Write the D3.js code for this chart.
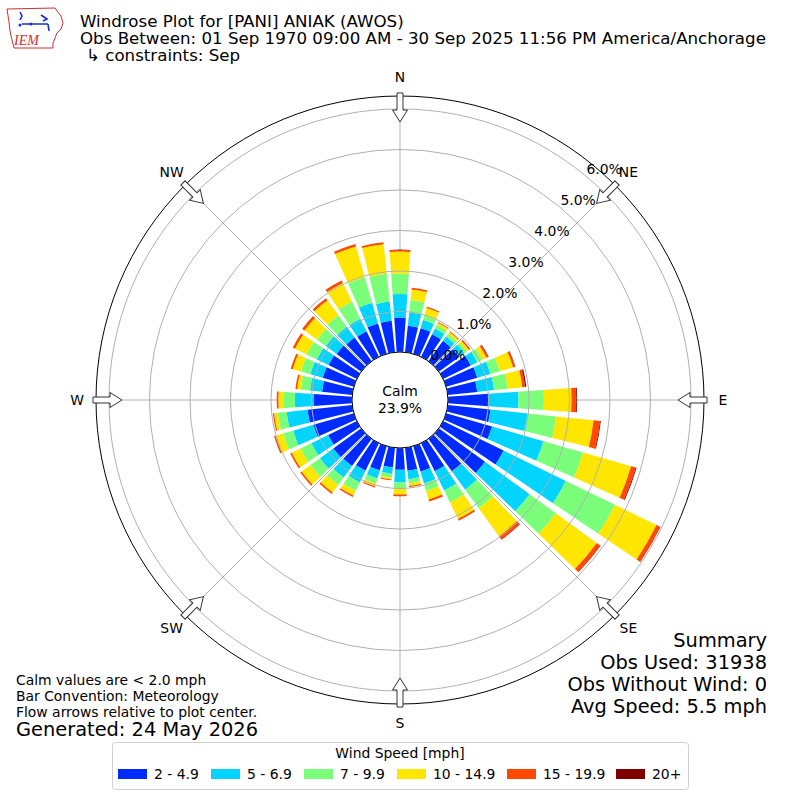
<!DOCTYPE html>
<html><head><meta charset="utf-8">
<script src="https://cdn.jsdelivr.net/npm/d3@7"></script>
<style>
body{margin:0;background:#fff}
svg{display:block}
text{font-family:"DejaVu Sans",sans-serif;fill:#000}
</style>
</head><body>
<svg id="chart" width="800" height="800"></svg>
<script>
// ---------------- data ----------------
const directions = [0,10,20,30,40,50,60,70,80,90,100,110,120,130,140,150,160,170,
                    180,190,200,210,220,230,240,250,260,270,280,290,300,310,320,330,340,350];
const speedBins = ["2 - 4.9","5 - 6.9","7 - 9.9","10 - 14.9","15 - 19.9","20+"];
// percent of observations per direction for each speed bin
const pct_2_5   = [0.85,0.66,0.66,0.62,0.62,0.62,0.76,0.80,0.73,1.00,1.06,1.18,1.66,1.41,1.00,0.77,0.65,0.57,
                   0.54,0.49,0.62,0.76,0.83,0.85,0.79,1.04,1.11,0.95,0.75,0.80,0.78,0.75,0.72,0.70,0.78,0.78];
const pct_5_7   = [0.58,0.33,0.21,0.16,0.13,0.16,0.18,0.34,0.42,0.74,0.92,1.32,1.71,1.36,0.55,0.53,0.31,0.21,
                   0.31,0.16,0.21,0.32,0.35,0.41,0.46,0.52,0.52,0.46,0.30,0.32,0.32,0.33,0.33,0.35,0.53,0.48];
const pct_7_10  = [0.51,0.31,0.13,0.10,0.08,0.07,0.14,0.24,0.34,0.63,0.71,1.02,1.35,0.80,0.57,0.33,0.19,0.10,
                   0.16,0.09,0.13,0.23,0.23,0.29,0.30,0.26,0.22,0.29,0.23,0.24,0.28,0.27,0.35,0.47,0.66,0.69];
const pct_10_15 = [0.54,0.26,0.18,0.06,0.06,0.07,0.11,0.34,0.36,0.68,0.93,1.23,1.14,1.25,0.85,0.45,0.22,0.07,
                   0.14,0.05,0.07,0.13,0.23,0.27,0.24,0.19,0.09,0.12,0.09,0.21,0.32,0.38,0.46,0.51,0.79,0.73];
const pct_15_20 = [0.04,0.04,0.03,0.02,0.02,0.04,0.05,0.05,0.07,0.12,0.16,0.12,0.10,0.11,0.10,0.05,0.05,0.03,
                   0.04,0.02,0.03,0.04,0.04,0.04,0.04,0.04,0.03,0.04,0.04,0.05,0.06,0.07,0.06,0.07,0.06,0.05];
const pct_20p   = [0.01,0.00,0.00,0.00,0.00,0.00,0.01,0.01,0.03,0.02,0.02,0.02,0.01,0.01,0.01,0.00,0.00,0.00,
                   0.00,0.00,0.00,0.00,0.00,0.00,0.00,0.00,0.00,0.00,0.00,0.00,0.00,0.00,0.00,0.00,0.00,0.00];
const binColors = ["#002bff","#00d4ff","#7bff7b","#ffe600","#ff4800","#800000"];
const radialTicks = [0,1,2,3,4,5,6];
const compassLabels = ["N","NE","E","SE","S","SW","W","NW"];
const compassAngles = [0,45,90,135,180,225,270,315];
const calmPct = 23.9;
const radialMax = 6.32;

const titleLines = ["Windrose Plot for [PANI] ANIAK (AWOS)",
  "Obs Between: 01 Sep 1970 09:00 AM - 30 Sep 2025 11:56 PM America/Anchorage",
  "\u21b3 constraints: Sep"];
const noteLines = ["Calm values are < 2.0 mph","Bar Convention: Meteorology","Flow arrows relative to plot center."];
const generatedText = "Generated: 24 May 2026";
const summaryLines = ["Summary","Obs Used: 31938","Obs Without Wind: 0","Avg Speed: 5.5 mph"];

// ---------------- chart ----------------
const svg = d3.select("#chart");
const cx = 400, cy = 400;
const r = d3.scaleLinear().domain([0, radialMax]).range([48, 304]);
const deg = d => d * Math.PI / 180;
const g = svg.append("g").attr("transform", `translate(${cx},${cy})`);

// spokes (under bars)
g.selectAll("line.spoke").data(compassAngles).join("line")
  .attr("x1", a => r(0) * Math.sin(deg(a))).attr("y1", a => -r(0) * Math.cos(deg(a)))
  .attr("x2", a => r(radialMax) * Math.sin(deg(a))).attr("y2", a => -r(radialMax) * Math.cos(deg(a)))
  .attr("stroke", "#b0b0b0").attr("stroke-width", 1);

// stacked bars
const series = [pct_2_5, pct_5_7, pct_7_10, pct_10_15, pct_15_20, pct_20p];
const segs = [];
directions.forEach((d, i) => {
  let acc = 0;
  series.forEach((s, k) => {
    const v = s[i];
    if (v > 0) segs.push({dir: d, lo: acc, hi: acc + v, k});
    acc += v;
  });
});
const arc = d3.arc();
const half = 4; // opening 0.8 of 10 deg
g.selectAll("path.bar").data(segs).join("path")
  .attr("d", s => arc({innerRadius: r(s.lo), outerRadius: r(s.hi),
                       startAngle: deg(s.dir - half), endAngle: deg(s.dir + half)}))
  .attr("fill", s => binColors[s.k]);

// grid circles (over bars)
g.selectAll("circle.grid").data(radialTicks).join("circle")
  .attr("r", t => r(t)).attr("fill", "none").attr("stroke", "#b0b0b0").attr("stroke-width", 1);

// outer frame
g.append("circle").attr("r", r(radialMax)).attr("fill", "none").attr("stroke", "#000").attr("stroke-width", 1);

// radial tick labels
const la = deg(40);
g.selectAll("text.rlab").data(radialTicks).join("text")
  .attr("x", t => r(t) * Math.sin(la) + 17)
  .attr("y", t => -r(t) * Math.cos(la) - 8)
  .attr("text-anchor", "middle").attr("dominant-baseline", "central")
  .style("font-size", "13.9px")
  .text(t => t.toFixed(1) + "%");

// calm circle
g.append("circle").attr("r", r(0)).attr("fill", "#fff").attr("stroke", "#000").attr("stroke-width", 1);
g.append("text").attr("x", 0).attr("y", -9).attr("text-anchor", "middle").attr("dominant-baseline", "central")
  .style("font-size", "13.9px").text("Calm");
g.append("text").attr("x", 0).attr("y", 8).attr("text-anchor", "middle").attr("dominant-baseline", "central")
  .style("font-size", "13.9px").text(calmPct.toFixed(1) + "%");

// direction arrows
const R = r(radialMax);
g.selectAll("path.arrow").data(compassAngles).join("path")
  .attr("transform", a => `rotate(${a})`)
  .attr("d", `M-3,${-R-3} L3,${-R-3} L3,${-R+14} L7.5,${-R+14} L0,${-R+26} L-7.5,${-R+14} L-3,${-R+14} Z`)
  .attr("fill", "#fff").attr("stroke", "#333").attr("stroke-width", 1);

// compass labels
g.selectAll("text.dir").data(compassAngles).join("text")
  .attr("x", a => (R + 19) * Math.sin(deg(a)))
  .attr("y", a => -(R + 19) * Math.cos(deg(a)))
  .attr("text-anchor", "middle").attr("dominant-baseline", "central")
  .style("font-size", "13.9px")
  .text((a, i) => compassLabels[i]);

// ---------------- texts ----------------
svg.selectAll("text.title").data(titleLines).join("text")
  .attr("x", (d, i) => i === 2 ? 86 : 80).attr("y", (d, i) => 27 + i * 17)
  .style("font-size", "16.67px").text(d => d);

svg.selectAll("text.note").data(noteLines).join("text")
  .attr("x", 16).attr("y", (d, i) => 685 + i * 16)
  .style("font-size", "13.9px").text(d => d);
svg.append("text").attr("x", 16).attr("y", 736).style("font-size", "19.4px").text(generatedText);

svg.selectAll("text.summary").data(summaryLines).join("text")
  .attr("x", 767).attr("y", (d, i) => 647 + i * 22).attr("text-anchor", "end")
  .style("font-size", "19.4px").text(d => d);

// ---------------- legend ----------------
const lg = svg.append("g");
lg.append("rect").attr("x", 112.5).attr("y", 742.5).attr("width", 576).attr("height", 47)
  .attr("rx", 3).attr("fill", "#fff").attr("stroke", "#d0d0d0").attr("stroke-width", 1);
lg.append("text").attr("x", 400).attr("y", 753).attr("text-anchor", "middle").attr("dominant-baseline", "central")
  .style("font-size", "13.9px").text("Wind Speed [mph]");
const legendX = [118, 211, 304, 397, 507, 616];
speedBins.forEach((b, i) => {
  lg.append("rect").attr("x", legendX[i]).attr("y", 769).attr("width", 29).attr("height", 10).attr("fill", binColors[i]);
  lg.append("text").attr("x", legendX[i] + 36).attr("y", 774).attr("dominant-baseline", "central")
    .style("font-size", "13.9px").text(b);
});

// ---------------- logo ----------------
const logo = svg.append("g");
logo.append("path")
  .attr("d", "M7,9 L55,8 L57,11 L61,16 L63,23 L61,29 L57,33 L55,38 L53,43 L53,48 L14,48 L12,40 L10,31 L9,22 Z")
  .attr("fill", "#fff").attr("stroke", "#d03030").attr("stroke-width", 1);
logo.append("path").attr("d", "M22,24 L48,24 M48,24 L49,31 M41,15 L47,19 L43,21 M20,12 L22,16 L20,20")
  .attr("fill", "none").attr("stroke", "#1a2fc8").attr("stroke-width", 1.6);
logo.append("circle").attr("cx", 20).attr("cy", 25).attr("r", 1.5).attr("fill", "#1a2fc8");
logo.append("circle").attr("cx", 31).attr("cy", 24).attr("r", 1.5).attr("fill", "#1a2fc8");
logo.append("text").attr("x", 14).attr("y", 45).style("font-family", "'Liberation Serif',serif")
  .style("font-style", "italic").style("font-size", "14px").style("fill", "#d03030").text("IEM");
</script>
</body></html>
